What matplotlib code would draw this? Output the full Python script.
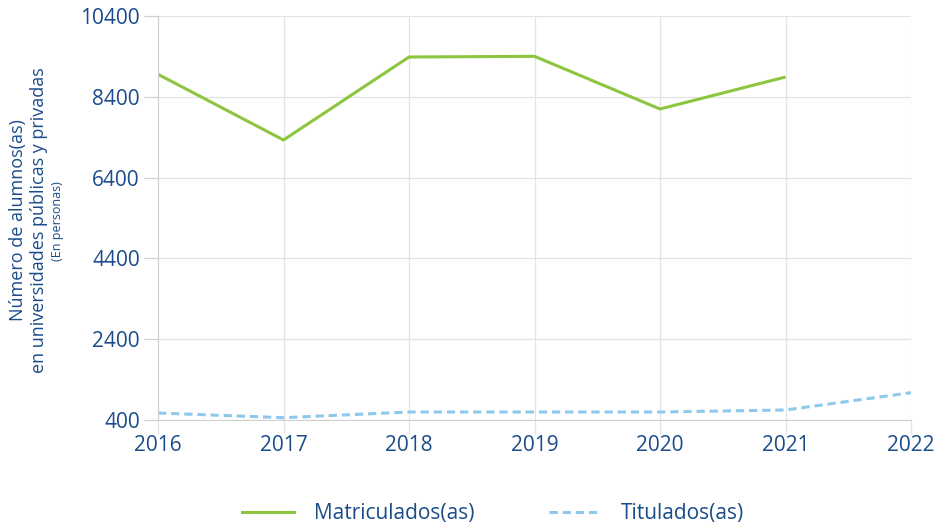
import numpy as np
import matplotlib.pyplot as plt
from matplotlib.lines import Line2D

# datos
anios = [2016, 2017, 2018, 2019, 2020, 2021, 2022]
matriculados = [8957, 7331, 9385, 9402, 8098, 8890]
titulados = [573, 457, 598, 598, 598, 648, 1076]
yticks = [400, 2400, 4400, 6400, 8400, 10400]

azul = '#1a4c8a'
verde = '#8cc63f'
celeste = '#8ec8ec'
gris = '#e3e3e3'

plt.rcParams['font.family'] = ['Open Sans', 'DejaVu Sans']

fig = plt.figure(figsize=(9.38, 5.31), dpi=100)
ax = fig.add_axes([158/938, 1-420/531, (911-158)/938, (420-16)/531])

ax.plot(anios[:len(matriculados)], matriculados, color=verde, lw=2.2, solid_capstyle='butt')
ax.plot(anios, titulados, color=celeste, lw=2.2, dashes=(2.7, 1.6))

ax.set_xlim(anios[0], anios[-1])
ax.set_ylim(yticks[0], yticks[-1])
ax.set_xticks(anios)
ax.set_yticks(yticks)
ax.grid(True, color=gris, lw=0.9)
ax.set_axisbelow(True)
for s in ['top', 'right']:
    ax.spines[s].set_visible(False)
for s in ['left', 'bottom']:
    ax.spines[s].set_color('#d0d0d0')
ax.tick_params(axis='x', colors=gris, length=10, width=0.9, labelcolor=azul, labelsize=15, pad=1)
ax.tick_params(axis='y', colors='#d0d0d0', length=10, width=0.9, labelcolor=azul, labelsize=15, pad=3)

fig.text(18/938, 1-220/531, 'Número de alumnos(as)', rotation=90, ha='center', va='center',
         color=azul, fontsize=13)
fig.text(39/938, 1-220/531, 'en universidades públicas y privadas', rotation=90,
         ha='center', va='center', color=azul, fontsize=13)
fig.text(58/938, 1-221/531, '(En personas)', rotation=90, ha='center', va='center',
         color=azul, fontsize=9)

handles = [Line2D([], [], color=verde, lw=2.2),
           Line2D([], [], color=celeste, lw=2.2, dashes=(2.7, 1.6))]
fig.legend(handles, ['Matriculados(as)', 'Titulados(as)'], loc='center',
           bbox_to_anchor=(493/938, 1-514/531), ncol=2, frameon=False, fontsize=15,
           labelcolor=azul, handlelength=2.5, handletextpad=0.95, columnspacing=3.6)

fig.savefig('out.png', dpi=100)
